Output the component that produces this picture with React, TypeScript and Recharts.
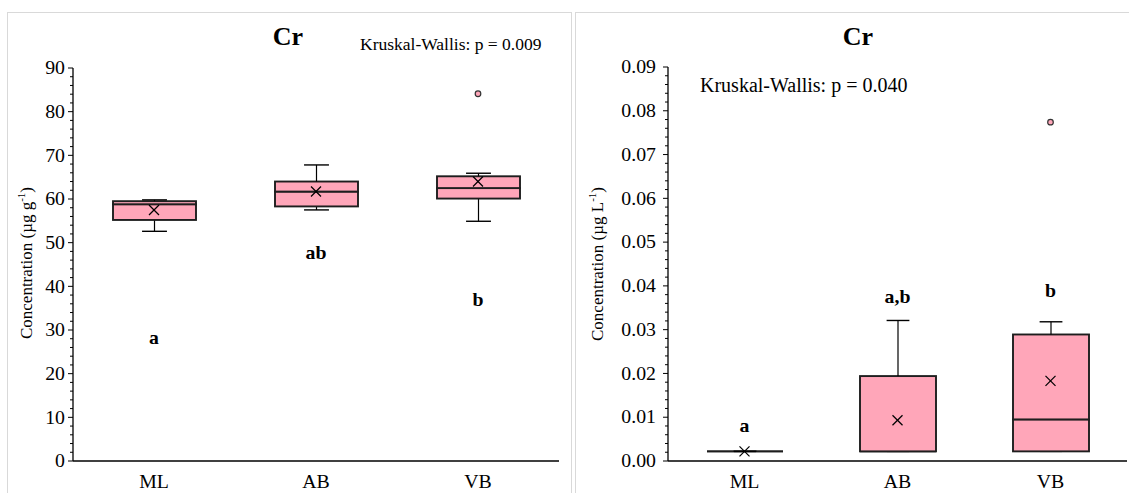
import React from 'react';
import { ComposedChart, Bar, Scatter, XAxis, YAxis } from 'recharts';

// ---------- data ----------
const categories = ['ML', 'AB', 'VB'];

// Left panel (µg g-1)
const leftMin = [52.6, 57.5, 54.9];
const leftQ1 = [55.2, 58.3, 60.1];
const leftMedian = [58.8, 61.7, 62.5];
const leftQ3 = [59.5, 64.0, 65.2];
const leftMax = [59.8, 67.8, 65.9];
const leftMean = [57.5, 61.7, 64.0];
const leftOutlier: (number | null)[] = [null, null, 84.1];
const leftLetters = ['a', 'ab', 'b'];
const leftLetterY = [28.3, 47.6, 36.8];
const leftMajorTicks = [0, 10, 20, 30, 40, 50, 60, 70, 80, 90];
const leftMinorStep = 2;

// Right panel (µg L-1)
const rightMin = [0.0022, 0.0022, 0.0022];
const rightQ1 = [0.0022, 0.0022, 0.0022];
const rightMedian = [0.0022, 0.0022, 0.0095];
const rightQ3 = [0.0022, 0.0194, 0.0289];
const rightMax = [0.0022, 0.0321, 0.0318];
const rightMean = [0.0022, 0.0093, 0.0183];
const rightOutlier: (number | null)[] = [null, null, 0.0774];
const rightLetters = ['a', 'a,b', 'b'];
const rightLetterY = [0.008, 0.0375, 0.0388];
const rightMajorTicks = [0, 0.01, 0.02, 0.03, 0.04, 0.05, 0.06, 0.07, 0.08, 0.09];
const rightMinorStep = 0.002;

const titleText = 'Cr';
const leftTest = 'Kruskal-Wallis: p = 0.009';
const rightTest = 'Kruskal-Wallis: p = 0.040';
const yLabelMain = 'Concentration (µg ';
const leftUnit = 'g';
const rightUnit = 'L';

// ---------- styling ----------
const FONT = "'Times New Roman', 'Liberation Serif', 'DejaVu Serif', serif";
const BOX_FILL = '#FFA6B9';
const BOX_STROKE = '#1e1e1e';
const STRETCH = 1.1;

function buildRows(mins, q1s, meds, q3s, maxs, means, outs, letters, letterYs) {
  return categories.map((name, i) => ({
    name,
    base: mins[i],
    wLow: q1s[i] - mins[i],
    boxLow: meds[i] - q1s[i],
    boxHigh: q3s[i] - meds[i],
    wHigh: maxs[i] - q3s[i],
    mean: means[i],
    outlier: outs[i],
    letter: letters[i],
    letterY: letterYs[i],
  }));
}

const leftRows = buildRows(leftMin, leftQ1, leftMedian, leftQ3, leftMax, leftMean, leftOutlier, leftLetters, leftLetterY);
const rightRows = buildRows(rightMin, rightQ1, rightMedian, rightQ3, rightMax, rightMean, rightOutlier, rightLetters, rightLetterY);

function buildTicks(majors: number[], step: number) {
  const out: number[] = [];
  for (let i = 0; i < majors.length; i++) {
    out.push(majors[i]);
    if (i < majors.length - 1) {
      let k = 1;
      while (majors[i] + k * step < majors[i + 1] - step / 2) {
        out.push(Number((majors[i] + k * step).toFixed(6)));
        k++;
      }
    }
  }
  return out;
}

// stretched text helper (the reference figure is slightly wide)
const SText = (p: any) => {
  const { x, y, children, sx = STRETCH, ...rest } = p;
  return (
    <text transform={`translate(${x},${y}) scale(${sx},1)`} x={0} y={0} fontFamily={FONT} fill="#000" {...rest}>
      {children}
    </text>
  );
};

// ---------- shapes ----------
const EmptyShape = () => <g />;

const LowWhisker = (p: any) => {
  const cx = p.x + p.width / 2;
  const cap = p.width * 0.3;
  const y0 = p.y;
  const y1 = p.y + (p.height || 0);
  return (
    <g>
      <line x1={cx} x2={cx} y1={y0} y2={y1} stroke="#000" strokeWidth={1.2} />
      <line x1={cx - cap / 2} x2={cx + cap / 2} y1={y1} y2={y1} stroke="#000" strokeWidth={1.4} />
    </g>
  );
};

const HighWhisker = (p: any) => {
  const cx = p.x + p.width / 2;
  const cap = p.width * 0.3;
  const y0 = p.y;
  const y1 = p.y + (p.height || 0);
  return (
    <g>
      <line x1={cx} x2={cx} y1={y0} y2={y1} stroke="#000" strokeWidth={1.2} />
      <line x1={cx - cap / 2} x2={cx + cap / 2} y1={y0} y2={y0} stroke="#000" strokeWidth={1.4} />
    </g>
  );
};

const BoxPart = (p: any) => {
  const h = p.height || 0;
  if (h < 0.5) {
    return <line x1={p.x} x2={p.x + p.width} y1={p.y} y2={p.y} stroke={BOX_STROKE} strokeWidth={1.9} />;
  }
  return <rect x={p.x} y={p.y} width={p.width} height={h} fill={BOX_FILL} stroke={BOX_STROKE} strokeWidth={1.9} />;
};

const MeanMark = (p: any) => {
  const { cx, cy } = p;
  if (cx == null || cy == null || isNaN(cy)) return <g />;
  const s = 5;
  return (
    <g>
      <line x1={cx - s} x2={cx + s} y1={cy - s} y2={cy + s} stroke="#000" strokeWidth={1.3} />
      <line x1={cx - s} x2={cx + s} y1={cy + s} y2={cy - s} stroke="#000" strokeWidth={1.3} />
    </g>
  );
};

const OutlierMark = (p: any) => {
  const { cx, cy, payload } = p;
  if (!payload || payload.outlier == null || cy == null || isNaN(cy)) return <g />;
  return <circle cx={cx} cy={cy} r={2.8} fill={BOX_FILL} stroke="#333" strokeWidth={1.2} />;
};

const LetterMark = (p: any) => {
  const { cx, cy, payload } = p;
  if (!payload || cy == null || isNaN(cy)) return <g />;
  return (
    <SText x={cx} y={cy} textAnchor="middle" dominantBaseline="central" fontWeight="bold" fontSize={18}>
      {payload.letter}
    </SText>
  );
};

function makeYTick(axisX: number, majors: number[], decimals: number, gap: number) {
  return (p: any) => {
    const v = p.payload.value;
    const isMajor = majors.some((m) => Math.abs(m - v) < 1e-9);
    const len = isMajor ? 5 : 3;
    return (
      <g>
        <line x1={axisX - len} x2={axisX} y1={p.y} y2={p.y} stroke="#000" strokeWidth={1} />
        {isMajor && (
          <SText x={axisX - gap} y={p.y} textAnchor="end" dominantBaseline="central" fontSize={18}>
            {v.toFixed(decimals)}
          </SText>
        )}
      </g>
    );
  };
}

const XTick = (p: any) => (
  <SText x={p.x} y={488} textAnchor="middle" fontSize={18}>
    {p.payload.value}
  </SText>
);

function Panel(props: any) {
  const { rows, width, height, margin, yWidth, domain, majors, step, decimals, barSize, gap } = props;
  const ticks = buildTicks(majors, step);
  return (
    <ComposedChart width={width} height={height} data={rows} margin={margin}>
      <XAxis dataKey="name" type="category" tickLine={false} axisLine={{ stroke: '#000', strokeWidth: 1.3 }} height={32} tick={XTick} interval={0} />
      <YAxis
        type="number"
        domain={domain}
        ticks={ticks}
        interval={0}
        width={yWidth}
        tickLine={false}
        axisLine={{ stroke: '#000', strokeWidth: 1.3 }}
        tick={makeYTick(yWidth, majors, decimals, gap)}
        allowDataOverflow
      />
      <Bar dataKey="base" stackId="box" barSize={barSize} shape={EmptyShape} isAnimationActive={false} />
      <Bar dataKey="wLow" stackId="box" barSize={barSize} shape={LowWhisker} isAnimationActive={false} />
      <Bar dataKey="boxLow" stackId="box" barSize={barSize} shape={BoxPart} isAnimationActive={false} />
      <Bar dataKey="boxHigh" stackId="box" barSize={barSize} shape={BoxPart} isAnimationActive={false} />
      <Bar dataKey="wHigh" stackId="box" barSize={barSize} shape={HighWhisker} isAnimationActive={false} />
      <Scatter dataKey="mean" shape={MeanMark} isAnimationActive={false} />
      <Scatter dataKey="outlier" shape={OutlierMark} isAnimationActive={false} />
      <Scatter dataKey="letterY" shape={LetterMark} isAnimationActive={false} />
    </ComposedChart>
  );
}

const panelBorder = { position: 'absolute' as const, border: '1px solid #d9d9d9', boxSizing: 'border-box' as const };

export default function App() {
  return (
    <div style={{ position: 'absolute', left: 0, top: 0, width: 1129, height: 493, overflow: 'hidden', background: '#fff' }}>
      <div style={{ ...panelBorder, left: 7, top: 12, width: 565, height: 520 }} />
      <div style={{ ...panelBorder, left: 575, top: 12, width: 600, height: 520 }} />
      <div style={{ position: 'absolute', left: 0, top: 0 }}>
        <Panel
          rows={leftRows}
          width={575}
          height={493}
          margin={{ top: 68, right: 16, bottom: 0, left: 0 }}
          yWidth={73}
          domain={[0, 90]}
          majors={leftMajorTicks}
          step={leftMinorStep}
          decimals={0}
          barSize={83}
          gap={8}
        />
      </div>
      <div style={{ position: 'absolute', left: 575, top: 0 }}>
        <Panel
          rows={rightRows}
          width={554}
          height={493}
          margin={{ top: 67, right: 2, bottom: 0, left: 0 }}
          yWidth={93}
          domain={[0, 0.09]}
          majors={rightMajorTicks}
          step={rightMinorStep}
          decimals={2}
          barSize={76}
          gap={12}
        />
      </div>
      <svg width={1129} height={493} style={{ position: 'absolute', left: 0, top: 0, pointerEvents: 'none' }}>
        <text x={288} y={45} textAnchor="middle" fontFamily={FONT} fontWeight="bold" fontSize={26} fill="#000">{titleText}</text>
        <text x={858} y={45} textAnchor="middle" fontFamily={FONT} fontWeight="bold" fontSize={26} fill="#000">{titleText}</text>
        <text x={360} y={50} textAnchor="start" fontFamily={FONT} fontSize={17.5} fill="#000">{leftTest}</text>
        <text x={700} y={92} textAnchor="start" fontFamily={FONT} fontSize={20} fill="#000">{rightTest}</text>
        <text transform="translate(32,263) rotate(-90)" textAnchor="middle" fontFamily={FONT} fontSize={17} fill="#000">
          {yLabelMain}{leftUnit}<tspan dy={-7} fontSize={11}>-1</tspan><tspan dy={7}>)</tspan>
        </text>
        <text transform="translate(603,264) rotate(-90)" textAnchor="middle" fontFamily={FONT} fontSize={17} fill="#000">
          {yLabelMain}{rightUnit}<tspan dy={-7} fontSize={11}>-1</tspan><tspan dy={7}>)</tspan>
        </text>
      </svg>
    </div>
  );
}
